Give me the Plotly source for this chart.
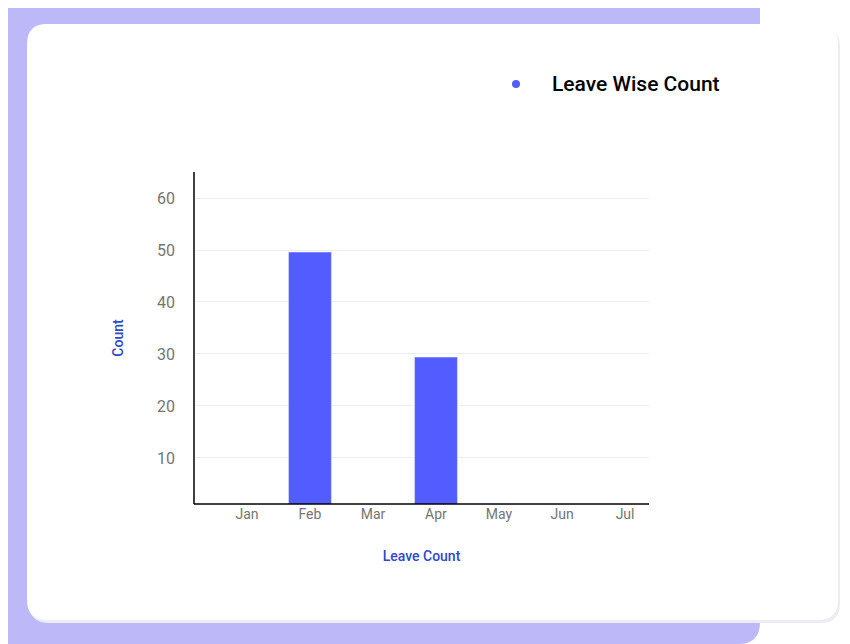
import plotly.graph_objects as go

months = ["Jan", "Feb", "Mar", "Apr", "May", "Jun", "Jul"]
counts = [0, 49.6, 0, 29.4, 0, 0, 0]
y_ticks = [10, 20, 30, 40, 50, 60]

W, H = 850, 644
OFF = 8  # page body margin
L, R, T, B = 194 - OFF, 649 - OFF, 172 - OFF, 504 - OFF

def px(x): return (x - OFF - L) / (R - L)
def py(y): return (B - (y - OFF)) / (B - T)

def rrect(x0, y0, x1, y1, r):
    def P(x, y): return f"{px(x):.5f},{py(y):.5f}"
    return (f"M {P(x0+r,y0)} L {P(x1-r,y0)} Q {P(x1,y0)} {P(x1,y0+r)} "
            f"L {P(x1,y1-r)} Q {P(x1,y1)} {P(x1-r,y1)} L {P(x0+r,y1)} "
            f"Q {P(x0,y1)} {P(x0,y1-r)} L {P(x0,y0+r)} Q {P(x0,y0)} {P(x0+r,y0)} Z")

fig = go.Figure(go.Bar(x=list(range(len(months))), y=counts, marker_color="#525CFF",
                       width=0.68, showlegend=False))

shapes = [
    dict(type="path", xref="paper", yref="paper", path=rrect(-20, -20, 760, 644, 22),
         fillcolor="#BDB9F8", line_width=0, layer="below"),
    dict(type="path", xref="paper", yref="paper", path=rrect(29, 27, 840, 623, 20),
         fillcolor="#ECECF4", line_width=0, layer="below"),
    dict(type="path", xref="paper", yref="paper", path=rrect(27, 24, 838, 620, 20),
         fillcolor="white", line_width=0, layer="below"),
    dict(type="circle", xref="paper", yref="paper", x0=px(512), x1=px(520), y0=py(88), y1=py(80),
         fillcolor="#525CFF", line_width=0),
    dict(type="line", xref="paper", yref="paper", x0=0, x1=0, y0=0, y1=1, line=dict(color="black", width=1.5)),
    dict(type="line", xref="paper", yref="paper", x0=0, x1=1, y0=0, y1=0, line=dict(color="black", width=1.5)),
]

fig.update_layout(
    width=W, height=H, margin=dict(l=L, r=W - R, t=T, b=H - B),
    paper_bgcolor="white", plot_bgcolor="rgba(0,0,0,0)",
    font=dict(family="Roboto", color="#757575"),
    shapes=shapes,
    annotations=[dict(xref="paper", yref="paper", x=px(550), y=py(84), xanchor="left", yanchor="middle",
                      text="Leave Wise Count", showarrow=False,
                      font=dict(size=21, color="black", weight=500))],
    xaxis=dict(range=[-0.84, 6.38], tickvals=list(range(len(months))), ticktext=months,
               showgrid=False, zeroline=False, showline=False, tickfont=dict(size=14),
               title=dict(text="Leave Count", font=dict(size=14, color="#3146C8", weight=500), standoff=30)),
    yaxis=dict(range=[1.15, 65], tickvals=y_ticks, showgrid=True, gridcolor="#EEEEEE",
               zeroline=False, showline=False, tickfont=dict(size=16), ticklabelstandoff=18,
               title=dict(text="Count", font=dict(size=14, color="#3146C8", weight=500), standoff=30)),
    bargap=0.3,
)
fig.write_html("out.html")
